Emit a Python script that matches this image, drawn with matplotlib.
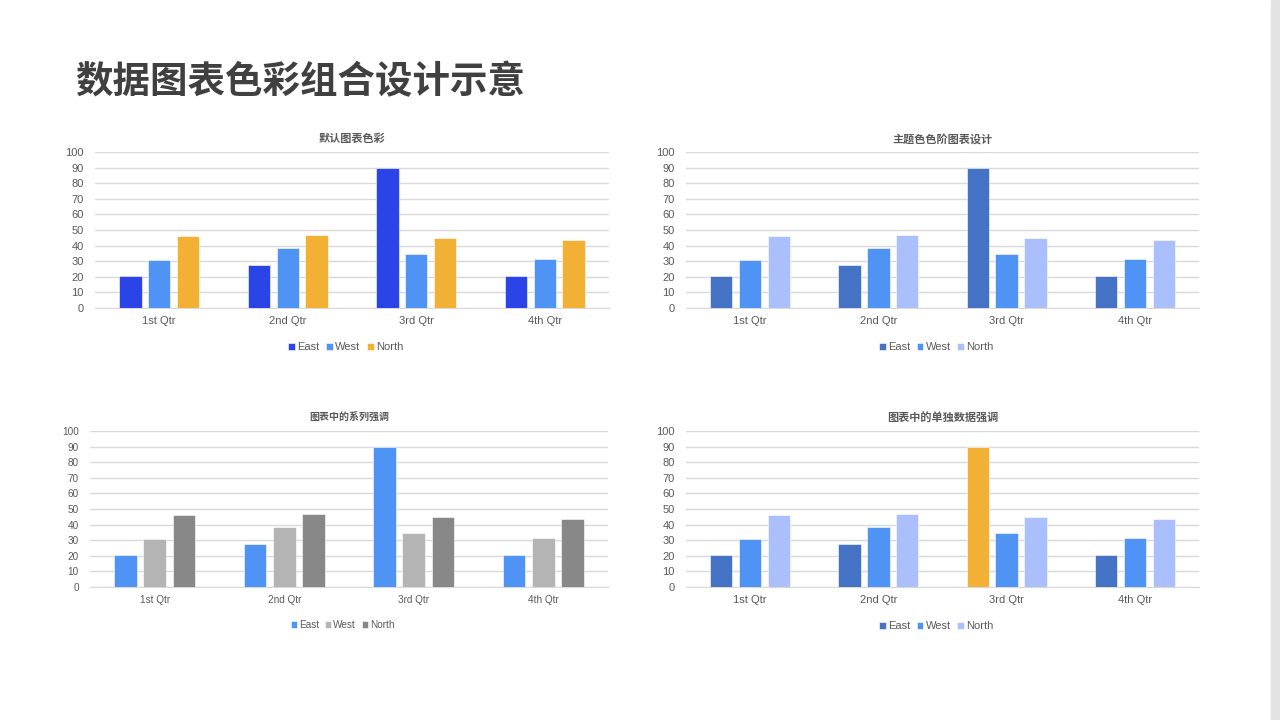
import numpy as np
import matplotlib.pyplot as plt
from matplotlib.patches import Rectangle

plt.rcParams['font.family'] = ['Liberation Sans', 'Noto Sans CJK SC', 'DejaVu Sans']

# data
quarters = ['1st Qtr', '2nd Qtr', '3rd Qtr', '4th Qtr']
series = ['East', 'West', 'North']
east = [20.4, 27.4, 90, 20.4]
west = [30.6, 38.6, 34.6, 31.6]
north = [45.9, 46.9, 45, 43.9]
titles = ['默认图表色彩', '主题色色阶图表设计', '图表中的系列强调', '图表中的单独数据强调']

# colours per chart (East, West, North)
palettes = [
    ['#2B44E8', '#4F93F5', '#F2B134'],
    ['#4472C4', '#4F93F5', '#AABFFB'],
    ['#4F93F5', '#B4B4B4', '#888888'],
    ['#4472C4', '#4F93F5', '#AABFFB'],
]
highlight = '#F2B134'  # single point highlight (3rd Qtr East, last chart)

W, H = 1280, 720
fig = plt.figure(figsize=(W / 100, H / 100), dpi=100)
fig.patch.set_facecolor('white')

# right slide edge
fig.patches.append(Rectangle((1271 / W, 0), 9 / W, 1, transform=fig.transFigure,
                             color='#E3E3E3', zorder=0))

fig.text(75 / W, 1 - 82 / H, '数据图表色彩组合设计示意', fontsize=27, fontweight='bold',
         color='#404040', va='center', ha='left', family=['Noto Sans CJK SC', 'DejaVu Sans'])

# axes boxes in pixels: left, right, y of 0, y of 100
boxes = [(95, 609, 308, 152), (686, 1199, 308, 152),
         (90, 608, 587, 431), (686, 1199, 587, 431)]

values = [east, west, north]
x = np.arange(len(quarters))
pitch = 0.225
bw = 0.175

for i, (l, r, y0, y1) in enumerate(boxes):
    ax = fig.add_axes([l / W, 1 - y0 / H, (r - l) / W, (y0 - y1) / H])
    small = i == 2
    fs = 7.2 if small else 8
    cols = palettes[i]
    for j, name in enumerate(series):
        c = [cols[j]] * len(quarters)
        if i == 3 and j == 0:
            c[2] = highlight
        ax.bar(x + (j - 1) * pitch, values[j], bw, color=c, label=name, zorder=3,
               edgecolor='white', linewidth=0.4)
    ax.set_xlim(-0.5, 3.5)
    ax.set_ylim(0, 100)
    ax.set_yticks(range(0, 101, 10))
    ax.set_xticks(x)
    ax.set_xticklabels(quarters)
    ax.grid(axis='y', color='#D9D9D9', linewidth=1, zorder=0)
    for s in ['top', 'right', 'left']:
        ax.spines[s].set_visible(False)
    ax.spines['bottom'].set_color('#D9D9D9')
    ax.tick_params(length=0, labelsize=fs, colors='#595959')
    ax.tick_params(axis='y', pad=8)
    ax.tick_params(axis='x', pad=6)
    ax.set_facecolor('none')
    ax.set_title(titles[i], fontsize=fs, fontweight='bold', color='#595959', pad=7,
                 family=['Noto Sans CJK SC', 'DejaVu Sans'])
    leg = ax.legend(loc='upper center', bbox_to_anchor=(0.488, -0.155), ncol=3, frameon=False,
                    fontsize=fs, handlelength=0.6, handleheight=0.6, handletextpad=0.2,
                    columnspacing=0.6)
    for t in leg.get_texts():
        t.set_color('#595959')

fig.savefig('out.png', dpi=100, facecolor='white')
